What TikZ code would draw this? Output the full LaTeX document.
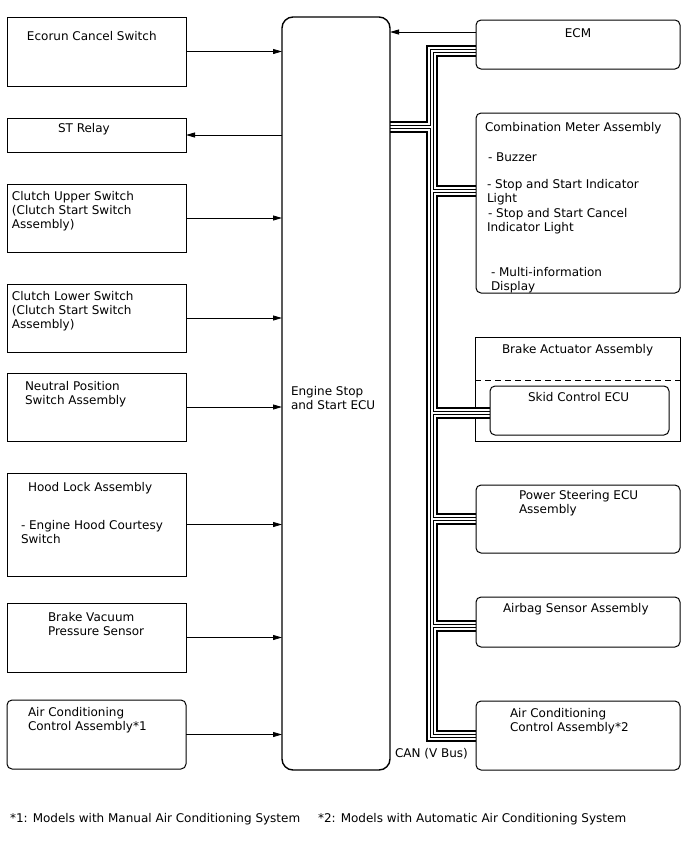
\documentclass[tikz,border=0pt]{standalone}
\usepackage{fontspec}
\setmainfont{DejaVu Sans}
\usetikzlibrary{arrows.meta}
\pgfdeclarelayer{bg}
\pgfsetlayers{bg,main}
\begin{document}
\begin{tikzpicture}[x=1pt,y=-1pt,
  every node/.style={inner sep=0pt, outer sep=0pt},
  box/.style={draw, line width=1pt, minimum width=179pt},
  rbox/.style={box, rounded corners=5pt},
  rbig/.style={rbox, minimum width=204pt},
  txt/.style={font=\fontsize{12}{14}\selectfont, anchor=base west, align=left},
  arr/.style={line width=0.8pt, -{Triangle[length=9pt,width=5pt]}},
  dashline/.style={line width=1pt, dash pattern=on 6pt off 4pt}
]
\useasboundingbox (0,0) rectangle (688,852);

% left column
\node[box, minimum height=69pt] (ecorun) at (96.5,51.5) {};
\node[box, minimum height=34pt] (strelay) at (96.5,135) {};
\node[box, minimum height=68pt] (clutchup) at (96.5,218) {};
\node[box, minimum height=68pt] (clutchlo) at (96.5,318) {};
\node[box, minimum height=68pt] (neutral) at (96.5,407) {};
\node[box, minimum height=103pt] (hood) at (96.5,524.5) {};
\node[box, minimum height=69pt] (brakevac) at (96.5,637.5) {};
\node[rbox, minimum height=69pt] (acone) at (96.5,734.5) {};

% ECU
\node[draw, line width=1.4pt, rounded corners=11pt, minimum width=108pt, minimum height=753pt] (ecu) at (336,393.5) {};

% right column
\node[rbig, minimum height=49pt] (ecm) at (578,44.5) {};
\node[rbig, minimum height=180pt] (combo) at (578,203) {};
\begin{pgfonlayer}{bg}
\node[box, minimum width=205pt, minimum height=104pt] (brakeact) at (577.5,389) {};
\end{pgfonlayer}
\node[rbox, minimum height=49pt] (skid) at (579.5,410.5) {};
\node[rbig, minimum height=68pt] (pse) at (578,519) {};
\node[rbig, minimum height=50pt] (airbag) at (578,622) {};
\node[rbig, minimum height=69pt] (actwo) at (578,735.5) {};

\coordinate (dashY) at (0,380);
\draw[dashline] (brakeact.west |- dashY) -- (brakeact.east |- dashY);

% texts (anchor = baseline of the last line)
\node[txt] (t1) at (27,40) {Ecorun Cancel Switch};
\node[txt] (t2) at (58,132) {ST Relay};
\node[txt] (t3) at (12,228) {Clutch Upper Switch\\(Clutch Start Switch\\Assembly)};
\node[txt] (t4) at (12,328) {Clutch Lower Switch\\(Clutch Start Switch\\Assembly)};
\node[txt] (t5) at (25,404) {Neutral Position\\Switch Assembly};
\node[txt] (t6) at (28,491) {Hood Lock Assembly};
\node[txt] (t7) at (21,543) {- Engine Hood Courtesy\\Switch};
\node[txt] (t8) at (48,635) {Brake Vacuum\\Pressure Sensor};
\node[txt] (t9) at (28,730) {Air Conditioning\\Control Assembly*1};
\node[txt] (t10) at (291,409) {Engine Stop\\and Start ECU};
\node[txt, anchor=base] (t11) at (578,37) {ECM};
\node[txt] (t12) at (485,131.5) {Combination Meter Assembly};
\node[txt] (t13) at (488,161) {- Buzzer};
\node[txt] (t14) at (487,202) {- Stop and Start Indicator\\Light};
\node[txt] (t15) at (488,231) {- Stop and Start Cancel\\\hspace*{-1pt}Indicator Light};
\node[txt] (t16) at (491,290) {- Multi-information\\Display};
\node[txt] (t17) at (502,353) {Brake Actuator Assembly};
\node[txt] (t18) at (528,401) {Skid Control ECU};
\node[txt] (t19) at (519,513) {Power Steering ECU\\Assembly};
\node[txt] (t20) at (503,612) {Airbag Sensor Assembly};
\node[txt] (t21) at (510,731) {Air Conditioning\\Control Assembly*2};
\node[txt] (t22) at (395,757) {CAN (V Bus)};
\node[txt] (f1) at (10,822) {*1: Models with Manual Air Conditioning System};
\node[txt] (f2) at (318,822) {*2: Models with Automatic Air Conditioning System};

% arrows
\draw[arr] (ecorun.east) -- (ecorun.east -| ecu.west);
\draw[arr] (strelay.east -| ecu.west) -- (strelay.east);
\draw[arr] (clutchup.east) -- (clutchup.east -| ecu.west);
\draw[arr] (clutchlo.east) -- (clutchlo.east -| ecu.west);
\draw[arr] (neutral.east) -- (neutral.east -| ecu.west);
\draw[arr] (hood.east) -- (hood.east -| ecu.west);
\draw[arr] (brakevac.east) -- (brakevac.east -| ecu.west);
\draw[arr] (acone.east) -- (acone.east -| ecu.west);
\coordinate (ecmY) at (0,32);
\draw[arr] (ecm.west |- ecmY) -- (ecu.east |- ecmY);

% CAN bus
\coordinate (tTop) at (432,51);
\coordinate (tBot) at (432,736);
\coordinate (jEcu) at (432,127);
\coordinate (jCombo) at (432,191);
\coordinate (jSkid) at (432,413);
\coordinate (jPse) at (432,519);
\coordinate (jAir) at (432,626);
\newcommand\canbus[1]{\draw[#1] (ecm.west |- tTop) -- (tTop) -- (tBot) -- (actwo.west |- tBot)
   (ecu.east |- jEcu) -- (jEcu)
   (jCombo) -- (combo.west |- jCombo)
   (jSkid) -- (skid.west |- jSkid)
   (jPse) -- (pse.west |- jPse)
   (jAir) -- (airbag.west |- jAir);}
\begin{pgfonlayer}{bg}
\canbus{line width=12.5pt, black}
\canbus{line width=7.5pt, white}
\canbus{line width=4.7pt, black}
\canbus{line width=2.3pt, white}
\end{pgfonlayer}
\end{tikzpicture}
\end{document}
